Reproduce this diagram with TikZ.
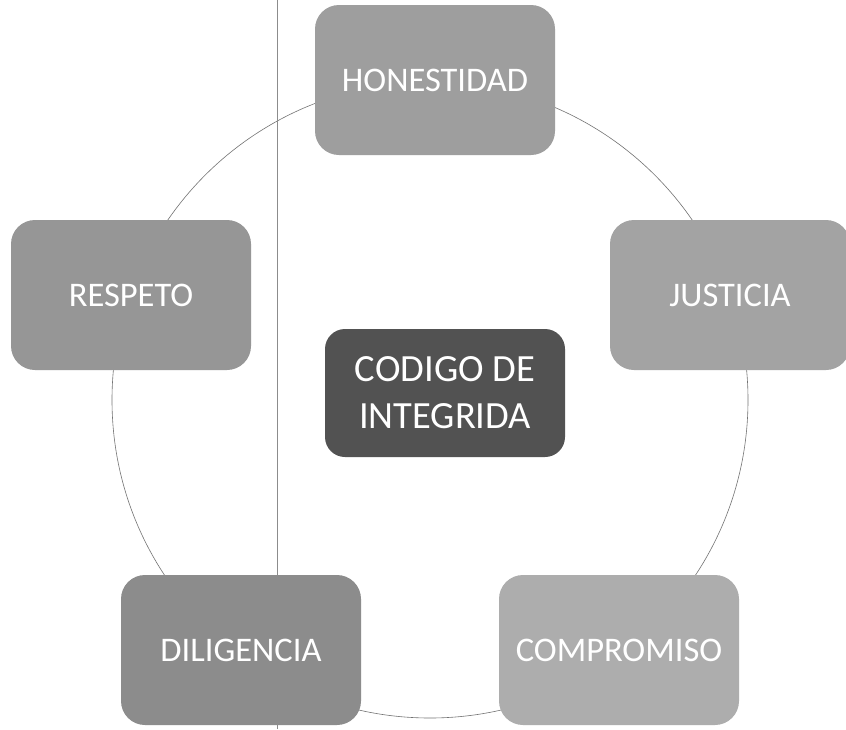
\documentclass[tikz,border=0pt]{standalone}
\usepackage{fontspec}
\setmainfont{Carlito}
\begin{document}
\begin{tikzpicture}[x=1pt,y=-1pt,
  box/.style={rounded corners=24pt, minimum width=240pt, minimum height=150pt, inner sep=0pt,
    text=white, font=\fontsize{34.5}{40}\selectfont, align=center},
  core/.style={rounded corners=20pt, minimum width=240pt, minimum height=128pt, inner sep=0pt,
    fill=black!68, text=white, font=\fontsize{38.5}{47}\selectfont, align=center},
  ring/.style={draw=black!55, line width=0.6pt}]
\useasboundingbox (0,0) rectangle (846,729);
\fill[white] (0,0) rectangle (846,729);
\draw[ring] (430,400) circle (318);
\draw[black!45, line width=0.5pt] (277,0) -- (277,729);
\node[box, fill=black!38] (hon) at (435,80) {HONESTIDAD};
\node[box, fill=black!41] (res) at (131,295) {RESPETO};
\node[box, fill=black!36] (jus) at (730,295) {JUSTICIA};
\node[box, fill=black!45] (dil) at (241,650) {DILIGENCIA};
\node[box, fill=black!32] (com) at (619,650) {COMPROMISO};
\node[core] (cod) at (445,393) {CODIGO DE\\INTEGRIDA};
\end{tikzpicture}
\end{document}
